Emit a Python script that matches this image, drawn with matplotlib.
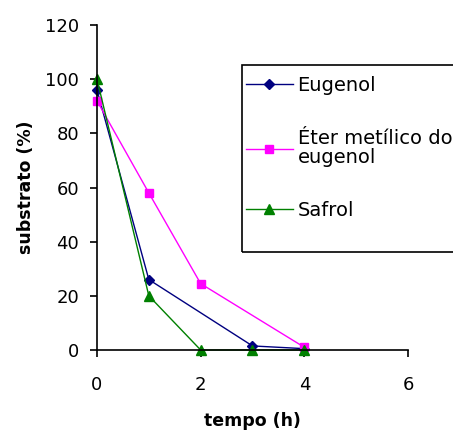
import matplotlib.pyplot as plt
from matplotlib.patches import Rectangle

plt.rcParams['font.family'] = ['DejaVu Sans']

# dados
t_eugenol = [0, 1, 3, 4]
eugenol = [96, 26, 1.5, 0.5]
t_eter = [0, 1, 2, 4]
eter = [92, 58, 24.5, 1]
t_safrol = [0, 1, 2, 3, 4]
safrol = [100, 20, 0, 0, 0]

W, H = 453, 432
fig = plt.figure(figsize=(4.53, 4.32), dpi=100)
ax = fig.add_axes([97 / W, 1 - 350 / H, (408 - 97) / W, (350 - 25) / H])

ax.plot(t_eugenol, eugenol, color='#000080', marker='D', ms=5, lw=1, label='Eugenol', clip_on=False)
ax.plot(t_eter, eter, color='#FF00FF', marker='s', ms=6, lw=1, label='Éter metílico do\neugenol', clip_on=False)
ax.plot(t_safrol, safrol, color='#008000', marker='^', ms=7, lw=1, label='Safrol', clip_on=False)

ax.set_xlim(0, 6)
ax.set_ylim(0, 120)
ax.set_xticks([0, 2, 4, 6])
ax.set_yticks(range(0, 121, 20))
ax.spines['top'].set_visible(False)
ax.spines['right'].set_visible(False)
ax.spines['left'].set_linewidth(1.2)
ax.spines['bottom'].set_linewidth(1.2)
ax.tick_params(labelsize=13, length=5, width=1.2)
ax.tick_params(axis='x', pad=14)
ax.tick_params(axis='y', pad=8)
ax.set_xlabel('tempo (h)', fontsize=12.5, fontweight='bold', labelpad=13)
ax.set_ylabel('substrato (%)', fontsize=12.5, fontweight='bold', labelpad=7)

# caixa da legenda (sai pela direita da figura)
fig.patches.append(Rectangle((242 / W, 1 - 252 / H), 230 / W, (252 - 65) / H,
                             transform=fig.transFigure, fill=False,
                             edgecolor='black', lw=1.2))
leg = ax.legend(loc='upper left', bbox_to_anchor=(246 / W, 1 - 76 / H),
                bbox_transform=fig.transFigure, fontsize=14, frameon=False,
                handlelength=2.4, handletextpad=0.25, labelspacing=1.75,
                borderpad=0, borderaxespad=0)
for txt in leg.get_texts():
    txt.set_linespacing(1.0)

fig.savefig('out.png', dpi=100)
